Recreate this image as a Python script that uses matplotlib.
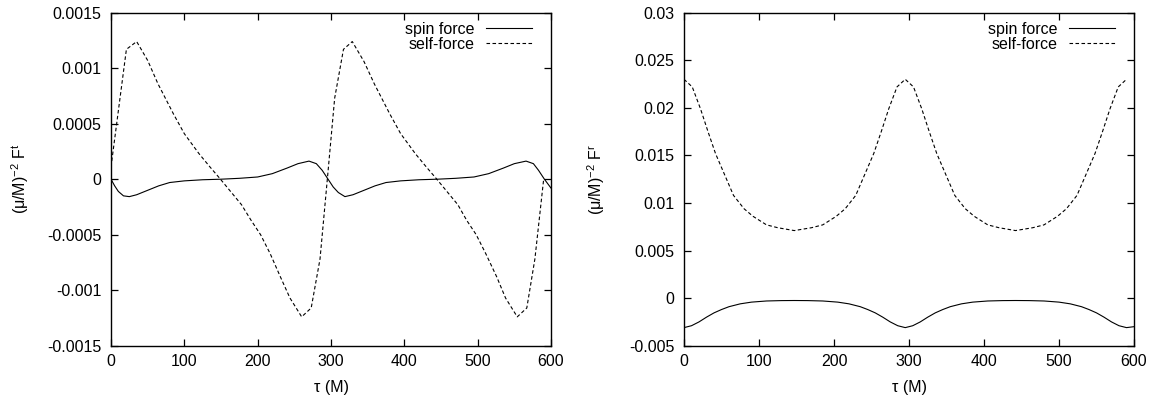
import matplotlib
matplotlib.use("Agg")
import matplotlib.pyplot as plt

plt.rcParams['font.family'] = ['Liberation Sans', 'DejaVu Sans']
plt.rcParams['mathtext.default'] = 'regular'
plt.rcParams['axes.unicode_minus'] = False

# left panel: (mu/M)^-2 F^t
t_spin_t = [0, 5, 10, 17, 25, 35, 50, 65, 80, 100, 125, 150, 175, 200, 220, 240, 255,
            270, 280, 288, 296, 303, 310, 319, 330, 345, 360, 375, 395, 420, 445, 470,
            495, 515, 535, 550, 566, 576, 583, 591, 600]
spin_t = [0.0, -0.00006, -0.00011, -0.00015, -0.000157, -0.00014, -0.0001, -0.00006,
          -0.00003, -0.000015, -0.000005, 0.0, 0.000008, 0.00002, 0.00005, 0.0001,
          0.00014, 0.000163, 0.00014, 0.00008, 0.0, -0.00007, -0.00012, -0.000157,
          -0.00014, -0.0001, -0.00006, -0.00003, -0.000015, -0.000005, 0.0, 0.000008,
          0.00002, 0.00005, 0.0001, 0.00014, 0.000163, 0.00014, 0.00008, 0.0, -0.00008]

t_self_t = [0, 21, 35, 50, 64, 85, 100, 120, 135, 148, 163, 178, 191, 204, 217, 231,
            244, 260, 273, 285, 295, 305, 317, 329, 345, 359, 380, 395, 415, 430, 443,
            458, 473, 485, 498, 511, 526, 538, 554, 567, 578, 590]
self_t = [0.00011, 0.00117, 0.00124, 0.00107, 0.00086, 0.00059, 0.00041, 0.00023,
          0.00011, 0.00001, -0.00011, -0.00023, -0.00037, -0.0005, -0.00067, -0.00088,
          -0.00107, -0.00124, -0.00116, -0.00072, 0.0, 0.00073, 0.00117, 0.00124,
          0.00106, 0.00086, 0.00059, 0.00041, 0.00023, 0.00011, 0.00001, -0.00011,
          -0.00023, -0.00037, -0.0005, -0.00067, -0.00088, -0.00107, -0.00124,
          -0.00116, -0.00072, 0.0]

# right panel: (mu/M)^-2 F^r
t_spin_r = [0, 10, 20, 30, 40, 50, 60, 75, 90, 110, 130, 147, 165, 185, 205, 220, 235,
            245, 255, 265, 275, 285, 295, 305, 315, 325, 335, 345, 355, 370, 385, 405,
            425, 442, 460, 480, 500, 515, 530, 540, 550, 560, 570, 580, 590, 600]
spin_r = [-0.0031, -0.0029, -0.0025, -0.002, -0.00155, -0.0012, -0.0009, -0.0006,
          -0.00042, -0.0003, -0.00026, -0.00025, -0.00026, -0.0003, -0.00042, -0.0006,
          -0.0009, -0.0012, -0.00155, -0.002, -0.0025, -0.0029, -0.0031, -0.0029,
          -0.0025, -0.002, -0.00155, -0.0012, -0.0009, -0.0006, -0.00042, -0.0003,
          -0.00026, -0.00025, -0.00026, -0.0003, -0.00042, -0.0006, -0.0009, -0.0012,
          -0.00155, -0.002, -0.0025, -0.0029, -0.0031, -0.003]

t_self_r = [0, 11, 22, 32, 42, 54, 66, 80, 92, 110, 125, 147, 170, 185, 203, 215, 229,
            241, 253, 263, 273, 284, 295, 306, 317, 327, 337, 349, 361, 375, 387, 405,
            420, 442, 465, 480, 498, 510, 524, 536, 548, 558, 568, 579, 590]
self_r = [0.023, 0.0222, 0.0199, 0.0175, 0.0152, 0.013, 0.0108, 0.0094, 0.0086, 0.0077,
          0.0074, 0.0071, 0.0074, 0.0077, 0.0086, 0.0094, 0.0108, 0.013, 0.0152, 0.0175,
          0.0199, 0.0222, 0.023, 0.0222, 0.0199, 0.0175, 0.0152, 0.013, 0.0108, 0.0094,
          0.0086, 0.0077, 0.0074, 0.0071, 0.0074, 0.0077, 0.0086, 0.0094, 0.0108, 0.013,
          0.0152, 0.0175, 0.0199, 0.0222, 0.023]

x_ticks = [0, 100, 200, 300, 400, 500, 600]
yt_left = [-0.0015, -0.001, -0.0005, 0, 0.0005, 0.001, 0.0015]
yt_left_labels = ["-0.0015", "-0.001", "-0.0005", "0", "0.0005", "0.001", "0.0015"]
yt_right = [-0.005, 0, 0.005, 0.01, 0.015, 0.02, 0.025, 0.03]
yt_right_labels = ["-0.005", "0", "0.005", "0.01", "0.015", "0.02", "0.025", "0.03"]

W, H = 1156, 398
fig = plt.figure(figsize=(W / 100, H / 100), dpi=100)
ax1 = fig.add_axes([111 / W, (H - 345.7) / H, 440 / W, 333 / H])
ax2 = fig.add_axes([684 / W, (H - 345.7) / H, 450 / W, 333 / H])

dash = (3.2, 2.2)
fs = 11.5


def style(ax, ylabel, yticks, ylabels, ylim, axw):
    ax.set_xlim(0, 600)
    ax.set_ylim(*ylim)
    ax.set_xticks(x_ticks)
    ax.set_xticklabels([str(v) for v in x_ticks])
    ax.set_yticks(yticks)
    ax.set_yticklabels(ylabels)
    ax.tick_params(direction='in', top=True, right=True, length=4.8, width=0.9,
                   labelsize=fs, colors='black')
    ax.tick_params(axis='x', pad=6)
    ax.tick_params(axis='y', pad=7)
    for s in ax.spines.values():
        s.set_linewidth(1.0)
    ax.set_xlabel("τ (M)", fontsize=fs)
    ax.xaxis.set_label_coords(0.5, -34 / 333)
    ax.set_ylabel(ylabel, fontsize=fs)
    ax.legend(loc='upper right', frameon=False, markerfirst=False, fontsize=fs,
              handlelength=2.9, handletextpad=0.7, labelspacing=0.0,
              borderpad=0, borderaxespad=0,
              bbox_to_anchor=(1 - 19 / axw, 1 - 9 / 333))


ax1.plot(t_spin_t, spin_t, color='black', lw=0.8, label='spin force')
ax1.plot(t_self_t, self_t, color='black', lw=0.8, dashes=dash, label='self-force')
style(ax1, "(μ/M)$^{-2}$ F$^{t}$", yt_left, yt_left_labels, (-0.0015, 0.0015), 440)
ax1.yaxis.set_label_coords(-(111 - 31) / 440, 0.5)

ax2.plot(t_spin_r, spin_r, color='black', lw=0.8, label='spin force')
ax2.plot(t_self_r, self_r, color='black', lw=0.8, dashes=dash, label='self-force')
style(ax2, "(μ/M)$^{-2}$ F$^{r}$", yt_right, yt_right_labels, (-0.005, 0.03), 450)
ax2.yaxis.set_label_coords(-(684 - 607) / 450, 0.5)

fig.savefig("out.png", dpi=100)
